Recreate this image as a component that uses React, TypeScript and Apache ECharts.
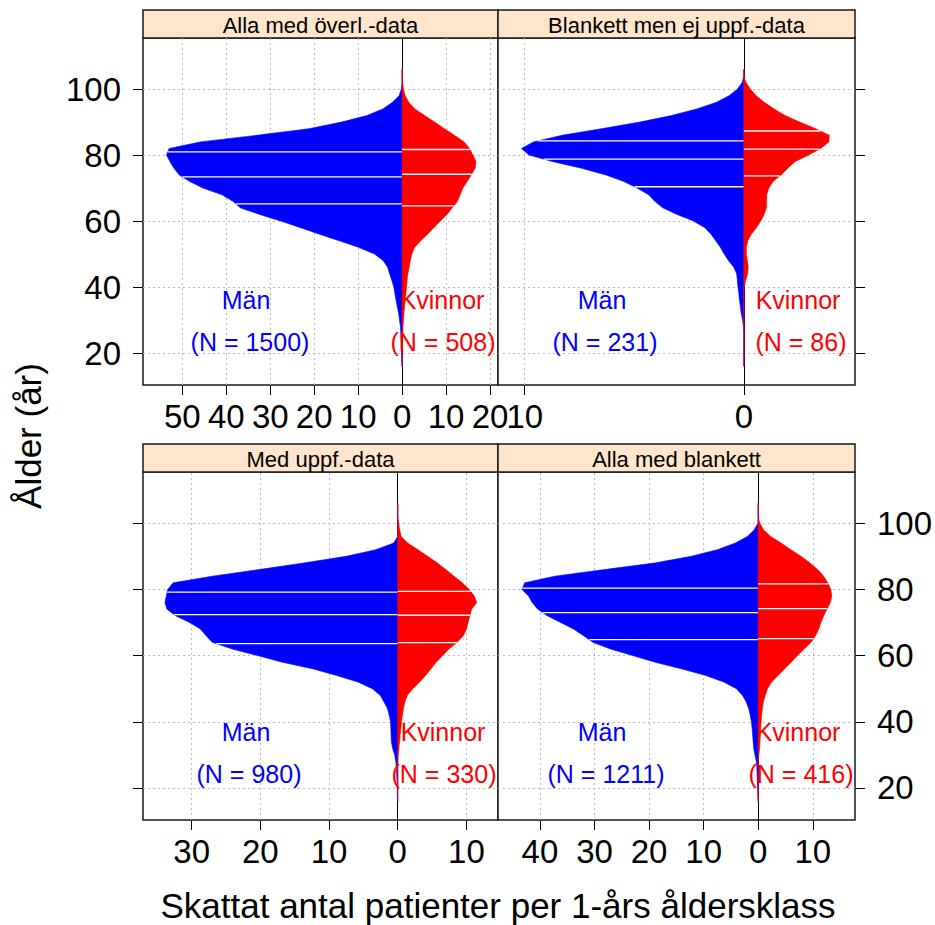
import React, { useEffect, useRef } from "react";
import * as echarts from "echarts";

// ---------- data ----------
const AGES = [
  16, 18, 20, 22, 24, 26, 28, 30, 32, 34,
  36, 38, 40, 42, 44, 46, 48, 50, 52, 54,
  56, 58, 60, 62, 64, 66, 68, 70, 72, 74,
  76, 78, 80, 82, 84, 86, 88, 90, 92, 94,
  96, 98, 100, 102, 104, 106,
];

// Alla med överl.-data
const MEN_OVERL = [
  0, 0.1, 0.15, 0.2, 0.25, 0.3, 0.4, 0.6, 0.8, 1.1,
  1.4, 1.65, 1.9, 2.35, 2.85, 3.3, 4.3, 6.3, 9.8, 14.3,
  18.8, 23.1, 27.6, 32.4, 36.8, 38.5, 41.0, 45.3, 48.3, 50.7,
  51.9, 52.8, 53.6, 53.0, 45.9, 33.1, 21.2, 13.8, 8.0, 4.4,
  2.2, 0.7, 0.2, 0, 0, 0,
];
const WOMEN_OVERL = [
  0, 0, 0, 0, 0.05, 0.1, 0.2, 0.3, 0.4, 0.55,
  0.7, 0.85, 1.0, 1.1, 1.3, 1.6, 1.85, 2.2, 2.85, 4.2,
  5.8, 7.2, 8.7, 10.2, 11.4, 12.6, 13.2, 13.8, 14.8, 15.7,
  16.6, 16.8, 16.1, 15.3, 14.1, 11.9, 9.6, 7.4, 5.1, 2.9,
  1.5, 0.7, 0.3, 0.1, 0.05, 0,
];
// Blankett men ej uppf.-data
const MEN_BLANK_EJ = [
  0, 0, 0, 0, 0, 0, 0.02, 0.06, 0.12, 0.16,
  0.2, 0.23, 0.27, 0.3, 0.33, 0.46, 0.7, 0.9, 1.07, 1.28,
  1.5, 1.78, 2.3, 3.05, 3.7, 4.07, 4.35, 4.87, 5.48, 6.3,
  7.4, 8.7, 9.8, 10.15, 9.6, 8.3, 6.5, 4.75, 3.3, 2.15,
  1.25, 0.68, 0.3, 0.08, 0, 0,
];
const WOMEN_BLANK_EJ = [
  0, 0, 0, 0, 0, 0, 0, 0, 0, 0,
  0, 0, 0.02, 0.08, 0.17, 0.2, 0.16, 0.11, 0.11, 0.18,
  0.34, 0.57, 0.77, 0.92, 1.03, 1.03, 1.04, 1.14, 1.33, 1.7,
  2.0, 2.33, 2.95, 3.5, 3.88, 3.9, 3.28, 2.55, 1.88, 1.38,
  0.93, 0.56, 0.3, 0.1, 0, 0,
];
// Med uppf.-data
const MEN_UPPF = [
  0, 0.05, 0.08, 0.1, 0.15, 0.2, 0.28, 0.45, 0.75, 0.93,
  0.97, 1.0, 1.05, 1.25, 1.5, 2.0, 2.55, 3.7, 5.8, 8.9,
  12.4, 16.8, 20.4, 24.1, 27.0, 27.9, 28.7, 30.3, 32.3, 33.6,
  33.9, 33.7, 33.5, 32.7, 27.0, 20.2, 13.7, 7.5, 3.2, 0.6,
  0, 0, 0, 0, 0, 0,
];
const WOMEN_UPPF = [
  0, 0, 0, 0, 0, 0, 0, 0.07, 0.17, 0.27,
  0.36, 0.46, 0.56, 0.68, 0.83, 1.05, 1.4, 2.2, 3.2, 4.05,
  4.85, 5.6, 6.55, 7.45, 8.65, 9.55, 10.0, 10.25, 10.5, 10.75,
  11.5, 11.15, 10.4, 9.4, 8.2, 7.0, 5.8, 4.35, 2.95, 1.45,
  0.5, 0.29, 0.14, 0, 0, 0,
];
// Alla med blankett
const MEN_BLANKETT = [
  0, 0.05, 0.1, 0.15, 0.2, 0.25, 0.35, 0.6, 0.82, 0.93,
  1.02, 1.12, 1.25, 1.45, 1.75, 2.2, 2.9, 4.0, 6.3, 9.6,
  14.1, 18.9, 23.0, 27.1, 30.3, 32.0, 33.8, 36.2, 38.6, 40.4,
  41.4, 42.1, 43.3, 42.8, 37.3, 28.2, 19.0, 12.3, 7.5, 4.2,
  2.0, 0.75, 0.05, 0, 0, 0,
];
const WOMEN_BLANKETT = [
  0, 0, 0, 0, 0, 0, 0, 0.12, 0.27, 0.33,
  0.39, 0.45, 0.53, 0.63, 0.78, 0.95, 1.3, 1.7, 2.45, 3.65,
  4.85, 6.05, 7.2, 8.45, 9.7, 10.5, 11.1, 11.5, 12.0, 12.6,
  13.2, 13.5, 13.3, 12.75, 12.0, 10.9, 9.5, 7.85, 6.0, 4.2,
  2.3, 1.0, 0.3, 0, 0, 0,
];

const PANEL_TITLES = [
  "Alla med överl.-data",
  "Blankett men ej uppf.-data",
  "Med uppf.-data",
  "Alla med blankett",
];
const N_MEN = [1500, 231, 980, 1211];
const N_WOMEN = [508, 86, 330, 416];
const QUART_MEN = [
  [65.2, 73.4, 81.0],
  [70.4, 78.8, 84.3],
  [63.6, 72.4, 79.2],
  [64.8, 73.0, 80.4],
];
const QUART_WOMEN = [
  [64.6, 74.2, 81.7],
  [73.7, 81.8, 87.3],
  [63.9, 72.2, 79.4],
  [65.1, 74.2, 81.7],
];
const X_TICKS = [
  [-50, -40, -30, -20, -10, 0, 10, 20],
  [-10, 0],
  [-30, -20, -10, 0, 10],
  [-40, -30, -20, -10, 0, 10],
];
const Y_TICKS = [20, 40, 60, 80, 100];
const MEN_SERIES = [MEN_OVERL, MEN_BLANK_EJ, MEN_UPPF, MEN_BLANKETT];
const WOMEN_SERIES = [WOMEN_OVERL, WOMEN_BLANK_EJ, WOMEN_UPPF, WOMEN_BLANKETT];

// ---------- layout ----------
const FONT = '"Liberation Sans", Arial, Helvetica, sans-serif';
const Y_MIN = 10.3;
const Y_MAX = 115.5;
const PANELS = [
  { left: 143, top: 38, width: 355, height: 347, xMin: -58.94, xMax: 21.8, yPos: "left", yLab: true },
  { left: 498, top: 38, width: 357, height: 347, xMin: -11.22, xMax: 5.07, yPos: "right", yLab: false },
  { left: 143, top: 472, width: 355, height: 348, xMin: -37.09, xMax: 14.6, yPos: "left", yLab: false },
  { left: 498, top: 472, width: 357, height: 348, xMin: -47.69, xMax: 17.74, yPos: "right", yLab: true },
];
const STRIP_H = 28;
const TEXT_POS = [
  { men: 246, menN: 250, women: 442, womenN: 443, y1: 300, y2: 342 },
  { men: 602, menN: 605, women: 798, womenN: 801, y1: 300, y2: 342 },
  { men: 246, menN: 249, women: 443, womenN: 444, y1: 732, y2: 774 },
  { men: 602, menN: 606, women: 798, womenN: 801, y1: 732, y2: 774 },
];

function interp(vals: number[], age: number): number {
  for (let i = 0; i < AGES.length - 1; i++) {
    if (age >= AGES[i] && age <= AGES[i + 1]) {
      const t = (age - AGES[i]) / (AGES[i + 1] - AGES[i]);
      return vals[i] + t * (vals[i + 1] - vals[i]);
    }
  }
  return 0;
}

function shapeSeries(idx: number, vals: number[], sign: number, color: string, quarts: number[], withGrid: boolean) {
  const s: any = {
    type: "custom",
    xAxisIndex: idx,
    yAxisIndex: idx,
    silent: true,
    clip: true,
    z: 2,
    data: AGES.map((a, i) => [sign * vals[i], a]),
    encode: { x: 0, y: 1 },
    renderItem: (params: any, api: any) => {
      if (params.dataIndex !== 0) return null;
      const pts: number[][] = [];
      pts.push(api.coord([0, AGES[0]]));
      for (let i = 0; i < AGES.length; i++) pts.push(api.coord([sign * vals[i], AGES[i]]));
      pts.push(api.coord([0, AGES[AGES.length - 1]]));
      const children: any[] = [
        {
          type: "polygon",
          shape: { points: pts },
          style: { fill: color, stroke: color, lineWidth: 0.6 },
        },
      ];
      quarts.forEach((q) => {
        const v = interp(vals, q);
        const p0 = api.coord([0, q]);
        const p1 = api.coord([sign * v, q]);
        children.push({
          type: "line",
          shape: { x1: p0[0], y1: p0[1], x2: p1[0], y2: p1[1] },
          style: { stroke: "#ffffff", lineWidth: 1.3 },
        });
      });
      return { type: "group", children };
    },
  };
  if (withGrid) {
    s.markLine = {
      silent: true,
      symbol: "none",
      z: 1,
      animation: false,
      label: { show: false },
      lineStyle: { color: "#bdbdbd", type: [2, 3], width: 1 },
      data: [
        ...X_TICKS[idx].filter((v) => v !== 0).map((v) => ({ xAxis: v })),
        ...Y_TICKS.map((v) => ({ yAxis: v })),
        { xAxis: 0, lineStyle: { color: "#000000", type: "solid", width: 1 } },
      ],
    };
  }
  return s;
}

export default function App() {
  const ref = useRef<HTMLDivElement>(null);
  useEffect(() => {
    if (!ref.current) return;
    const chart = echarts.init(ref.current, null, { renderer: "svg" });

    const grids = PANELS.map((p) => ({
      left: p.left,
      top: p.top,
      width: p.width,
      height: p.height,
      containLabel: false,
      outerBoundsMode: "none",
      show: true,
      backgroundColor: "#ffffff",
      borderColor: "#1a1a1a",
      borderWidth: 1.5,
    }));

    const xAxes = PANELS.map((p, i) => ({
      type: "value",
      gridIndex: i,
      position: "bottom",
      min: p.xMin,
      max: p.xMax,
      axisLine: { show: false, onZero: false },
      splitLine: { show: false },
      axisTick: {
        show: true,
        length: 10,
        customValues: X_TICKS[i],
        lineStyle: { color: "#000", width: 1 },
      },
      axisLabel: {
        show: true,
        customValues: X_TICKS[i],
        formatter: (v: number) => String(Math.abs(Math.round(v))),
        fontSize: 33,
        fontFamily: FONT,
        color: "#000",
        margin: 15,
      },
    }));

    const yAxes = PANELS.map((p, i) => ({
      type: "value",
      gridIndex: i,
      min: Y_MIN,
      max: Y_MAX,
      position: p.yPos,
      axisLine: { show: false, onZero: false },
      splitLine: { show: false },
      axisTick: {
        show: true,
        length: 10,
        customValues: Y_TICKS,
        lineStyle: { color: "#000", width: 1 },
      },
      axisLabel: {
        show: p.yLab,
        customValues: Y_TICKS,
        fontSize: 33,
        fontFamily: FONT,
        color: "#000",
        margin: 22,
      },
    }));

    const series: any[] = [];
    PANELS.forEach((p, i) => {
      series.push(shapeSeries(i, MEN_SERIES[i], -1, "#0000ff", QUART_MEN[i], true));
      series.push(shapeSeries(i, WOMEN_SERIES[i], 1, "#ff0000", QUART_WOMEN[i], false));
    });

    const graphic: any[] = [];
    PANELS.forEach((p, i) => {
      graphic.push({
        type: "rect",
        shape: { x: p.left, y: p.top - STRIP_H, width: p.width, height: STRIP_H },
        style: { fill: "#ffe5cc", stroke: "#1a1a1a", lineWidth: 1.5 },
        silent: true,
      });
      graphic.push({
        type: "text",
        x: p.left + p.width / 2,
        y: p.top - STRIP_H / 2 + 1,
        silent: true,
        style: {
          text: PANEL_TITLES[i],
          fill: "#000",
          fontSize: 22,
          fontFamily: FONT,
          align: "center",
          verticalAlign: "middle",
          textAlign: "center",
          textVerticalAlign: "middle",
        },
      });
      const t = TEXT_POS[i];
      const addText = (txt: string, x: number, y: number, color: string) =>
        graphic.push({
          type: "text",
          x,
          y,
          silent: true,
          z: 100,
          style: {
            text: txt,
            fill: color,
            fontSize: 25,
            fontFamily: FONT,
            align: "center",
            verticalAlign: "middle",
            textAlign: "center",
            textVerticalAlign: "middle",
          },
        });
      addText("Män", t.men, t.y1, "#0000ff");
      addText(`(N = ${N_MEN[i]})`, t.menN, t.y2, "#0000ff");
      addText("Kvinnor", t.women, t.y1, "#ff0000");
      addText(`(N = ${N_WOMEN[i]})`, t.womenN, t.y2, "#ff0000");
    });
    graphic.push({
      type: "text",
      x: 28,
      y: 436,
      rotation: Math.PI / 2,
      silent: true,
      style: {
        text: "Ålder (år)",
        fill: "#000",
        fontSize: 35,
        fontFamily: FONT,
        align: "center",
        verticalAlign: "middle",
        textAlign: "center",
        textVerticalAlign: "middle",
      },
    });
    graphic.push({
      type: "text",
      x: 498,
      y: 905,
      silent: true,
      style: {
        text: "Skattat antal patienter per 1-års åldersklass",
        fill: "#000",
        fontSize: 35,
        fontFamily: FONT,
        align: "center",
        verticalAlign: "middle",
        textAlign: "center",
        textVerticalAlign: "middle",
      },
    });

    chart.setOption({
      animation: false,
      backgroundColor: "#ffffff",
      textStyle: { fontFamily: FONT },
      grid: grids,
      xAxis: xAxes,
      yAxis: yAxes,
      series,
      graphic,
    });
    return () => chart.dispose();
  }, []);

  return (
    <div
      ref={ref}
      style={{ position: "fixed", left: 0, top: 0, width: 935, height: 925, background: "#fff" }}
    />
  );
}
